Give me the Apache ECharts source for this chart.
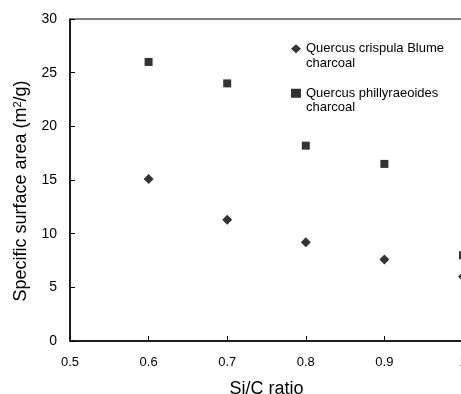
<!DOCTYPE html>
<html>
<head>
<meta charset="utf-8">
<script src="https://cdn.jsdelivr.net/npm/echarts@6/dist/echarts.min.js"></script>
<style>
  html, body { margin: 0; padding: 0; background: #fff; }
  #chart { width: 461px; height: 394px; }
</style>
</head>
<body>
<div id="chart"></div>
<script>
// Si/C ratio vs specific surface area
const siC = [0.6, 0.7, 0.8, 0.9, 1.0]
const crispula = [15.1, 11.3, 9.2, 7.6, 6.0]
const phillyraeoides = [26.0, 24.0, 18.2, 16.5, 8.0]
const seriesNames = ['Quercus crispula Blume\ncharcoal', 'Quercus phillyraeoides\ncharcoal']

const pairs = (ys) => siC.map((x, i) => [x, ys[i]])

const chart = echarts.init(document.getElementById('chart'))
const font = 'Liberation Sans, Arial, sans-serif'

chart.setOption({
  animation: false,
  backgroundColor: '#fff',
  textStyle: { fontFamily: font, color: '#000' },
  grid: {
    left: 70, right: -2, top: 19, bottom: 53,
    outerBoundsMode: 'none', containLabel: false,
    show: true, borderColor: '#000', borderWidth: 1,
  },
  legend: {
    orient: 'vertical',
    left: 286, top: 22,
    itemWidth: 10, itemHeight: 9, itemGap: 1,
    // leading blank line keeps the marker level with the first text line
    formatter: (name) => '\n' + name,
    textStyle: { fontSize: 13, color: '#000', fontFamily: font, lineHeight: 14.5 },
    data: [
      { name: seriesNames[0], icon: 'diamond' },
      { name: seriesNames[1], icon: 'rect' },
    ],
  },
  xAxis: {
    type: 'value', min: 0.5, max: 1.0, interval: 0.1,
    name: 'Si/C ratio', nameLocation: 'middle', nameGap: 39,
    nameTextStyle: { fontSize: 18, color: '#000' },
    axisLine: { lineStyle: { color: '#000', width: 1.5 } },
    axisTick: { inside: true, length: 5, lineStyle: { color: '#000' } },
    axisLabel: { fontSize: 13, color: '#000', margin: 15,
      formatter: (v) => (Math.abs(v - 1) < 1e-9 ? '1' : v.toFixed(1)) },
    splitLine: { show: false },
  },
  yAxis: {
    type: 'value', min: 0, max: 30, interval: 5,
    name: 'Specific surface area (m{sup|2}/g)', nameLocation: 'middle', nameGap: 37,
    nameTextStyle: {
      fontSize: 18, color: '#000', padding: [0, 22, 0, 0],
      rich: { sup: { fontSize: 11, verticalAlign: 'top', padding: [0, 0, 8, 0] } },
    },
    axisLine: { show: true, lineStyle: { color: '#000', width: 1.5 } },
    axisTick: { show: true, inside: true, length: 5, lineStyle: { color: '#000' } },
    axisLabel: { fontSize: 14, color: '#000', margin: 13 },
    splitLine: { show: false },
  },
  series: [
    { type: 'scatter', name: seriesNames[0], data: pairs(crispula),
      symbol: 'diamond', symbolSize: 10, itemStyle: { color: '#000' } },
    { type: 'scatter', name: seriesNames[1], data: pairs(phillyraeoides),
      symbol: 'rect', symbolSize: 8, itemStyle: { color: '#000' } },
  ],
})
</script>
</body>
</html>
